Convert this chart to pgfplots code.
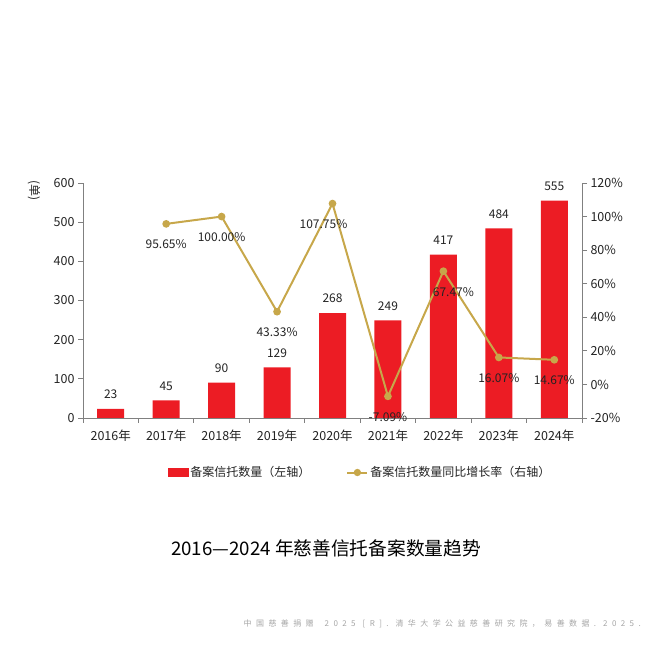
\documentclass[border=0pt]{standalone}
\usepackage{fontspec}
\setmainfont{Noto Sans CJK SC}
\newfontfamily\srcfont[LetterSpace=55]{Noto Sans CJK SC}
\usepackage{pgfplots}
\usepackage{pgfplotstable}
\pgfplotsset{compat=1.18}
\definecolor{barred}{RGB}{236,28,36}
\definecolor{gold}{RGB}{199,167,74}
\definecolor{axgray}{RGB}{128,128,128}
\definecolor{txt}{RGB}{35,35,35}
\definecolor{srcgray}{RGB}{165,165,165}

\pgfplotstableread{
x n
0 23
1 45
2 90
3 129
4 268
5 249
6 417
7 484
8 555
}\bartable

\pgfplotstableread{
x r dx
1 95.65 0
2 100.00 0
3 43.33 0
4 107.75 -9
5 -7.09 0
6 67.47 10
7 16.07 0
8 14.67 0
}\ratetable

\pgfplotsset{
  /pgf/number format/assume math mode=true,
  common/.style={
    at={(83pt,232pt)}, anchor=south west,
    scale only axis, width=499pt, height=235pt,
    xmin=-0.5, xmax=8.5,
    clip=false,
    axis line style={axgray, line width=0.9pt, -},
    tick label style={txt, font=\fontsize{12.5}{14}\selectfont},
    tick align=outside,
    major tick length=5pt,
    tick style={axgray, line width=0.8pt},
  },
}

\begin{document}
\begin{tikzpicture}[x=1pt,y=1pt]
\useasboundingbox (0,0) rectangle (650,650);

\begin{axis}[
  common,
  ymin=0, ymax=600, ytick={0,100,...,600},
  axis x line*=bottom, axis y line*=left,
  xtick={0,...,8},
  xticklabels={2016年,2017年,2018年,2019年,2020年,2021年,2022年,2023年,2024年},
  major x tick style={draw=none},
  minor xtick={-0.5,0.5,...,8.5},
  minor tick length=5pt,
  minor x tick style={axgray, line width=0.8pt},
  xticklabel style={yshift=-3pt},
]
\addplot[ybar, bar width=27pt, fill=barred, draw=none,
  nodes near coords,
  every node near coord/.append style={txt, font=\fontsize{12}{14}\selectfont, anchor=south, inner sep=0pt, yshift=10pt},
] table[x=x, y=n] {\bartable};
\end{axis}

\begin{axis}[
  common,
  ymin=-20, ymax=120, ytick={-20,0,...,120},
  axis y line*=right, axis x line=none,
  yticklabel={\pgfmathprintnumber{\tick}\%},
  legend columns=2,
  legend style={draw=none, fill=none, at={(rel axis cs:0.5555,-0.232)}, anchor=center,
    font=\fontsize{12}{14}\selectfont, text=txt,
    nodes={inner xsep=2pt},
    /tikz/every even column/.append style={column sep=34pt}},
  legend cell align=left,
]
\addlegendimage{legend image code/.code={\fill[barred] (-1pt,-4pt) rectangle (19pt,4pt);}}
\addlegendentry{备案信托数量（左轴）}
\addplot[gold, line width=2pt, mark=*, mark size=2.8pt, mark options={fill=gold, draw=gold},
  legend image code/.code={\draw[gold, line width=2pt] (-1pt,0pt) -- (19pt,0pt); \fill[gold] (9pt,0pt) circle (2.6pt);},
  nodes near coords={\pgfmathprintnumber[fixed, fixed zerofill, precision=2]{\pgfplotspointmeta}\%},
  visualization depends on={\thisrow{dx} \as \dx},
  every node near coord/.append style={txt, font=\fontsize{12}{14}\selectfont, anchor=north, inner sep=0pt, yshift=-15pt, xshift=\dx pt},
] table[x=x, y=r, meta=r] {\ratetable};
\addlegendentry{备案信托数量同比增长率（右轴）}
\end{axis}

\node[rotate=-90, txt, font=\fontsize{12}{14}\selectfont] at (34,459) {(单)};
\node[black, font=\fontsize{18.7}{22}\selectfont] at (326,102) {2016—2024 年慈善信托备案数量趋势};
\node[srcgray, anchor=east, inner sep=0pt, font=\fontsize{8}{9}\srcfont] at (641,26) {中国慈善捐赠\hspace{11pt}2025\hspace{7pt}[R].\hspace{7pt}清华大学公益慈善研究院，易善数据.\hspace{7pt}2025.};
\end{tikzpicture}
\end{document}
